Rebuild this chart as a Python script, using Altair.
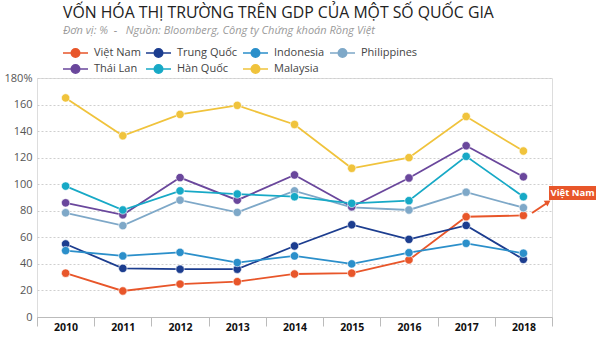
import altair as alt
import pandas as pd

years = ["2010", "2011", "2012", "2013", "2014", "2015", "2016", "2017", "2018"]
countries = ["Việt Nam", "Trung Quốc", "Indonesia", "Philippines", "Thái Lan", "Hàn Quốc", "Malaysia"]
colors = ["#e8562a", "#1c3d8f", "#2b8fca", "#7ea8c8", "#6a479c", "#17a9c6", "#f0c33c"]

viet_nam = [33, 19.6, 24.8, 26.6, 32.4, 33, 43, 75.5, 76.5]
trung_quoc = [55, 36.6, 36, 36, 53.5, 69.5, 58.5, 69, 43.4]
indonesia = [50, 46, 48.7, 41, 46, 40, 48.4, 55.5, 48]
philippines = [78.5, 68.8, 88, 78.8, 95, 82.6, 80.6, 94, 82.3]
thai_lan = [86, 77, 105, 88, 107, 83, 104.7, 129, 105.6]
han_quoc = [98.6, 80.6, 95, 92.6, 90.6, 85.6, 87.6, 121, 90.6]
malaysia = [165, 136.5, 152.6, 159.4, 145, 112, 120, 151, 125]

NB = "\u00a0"
title_text = "VỐN HÓA THỊ TRƯỜNG TRÊN GDP CỦA MỘT SỐ QUỐC GIA"
subtitle_text = f"Đơn vị: %{NB}{NB}-{NB}{NB}{NB}Nguồn: Bloomberg, Công ty Chứng khoán Rồng Việt"
callout_text = "Việt Nam"

series = [viet_nam, trung_quoc, indonesia, philippines, thai_lan, han_quoc, malaysia]
rows = []
for c, vals in zip(countries, series):
    for y, v in zip(years, vals):
        rows.append({"country": c, "year": y, "value": v})
df = pd.DataFrame(rows)

FONT = "Open Sans"
sym = "M-1.667,0H-0.56M0.56,0H1.667M-0.56,0A0.56,0.56,0,1,1,0.56,0A0.56,0.56,0,1,1,-0.56,0Z"

color = alt.Color(
    "country:N",
    scale=alt.Scale(domain=countries, range=colors),
    sort=countries,
    legend=alt.Legend(
        title=None, orient="none", legendX=30, legendY=-33.5, columns=4,
        direction="horizontal", padding=0,
        symbolType=sym, symbolSize=225, symbolStrokeWidth=1.6,
        labelFont=FONT, labelFontSize=11, labelColor="#444",
        columnPadding=1, rowPadding=0, labelOffset=10,
    ),
)

x = alt.X("year:O", sort=years, title=None,
          scale=alt.Scale(type="band", paddingInner=0, paddingOuter=0),
          axis=alt.Axis(labelAngle=0, labelFont=FONT, labelFontWeight="bold",
                        labelFontSize=10.5, labelColor="#111", domainColor="#bbb",
                        tickColor="#bbb", tickSize=9, tickBand="extent",
                        labelPadding=-4, grid=False))
y = alt.Y("value:Q", title=None,
          scale=alt.Scale(domain=[0, 180], nice=False),
          axis=alt.Axis(values=list(range(0, 181, 20)), labelFont=FONT,
                        labelFontSize=11, labelColor="#555", domain=False,
                        ticks=False, labelPadding=5, gridColor="#cfcfcf",
                        gridDash=[2, 2], gridWidth=1,
                        labelExpr="datum.value == 180 ? '180%' : datum.label"))

lines = alt.Chart(df).mark_line(strokeWidth=1.8).encode(x=x, y=y, color=color)
points = alt.Chart(df).mark_circle(size=70, opacity=1, stroke="white", strokeWidth=0.6).encode(
    x=x, y=y, color=alt.Color("country:N", scale=alt.Scale(domain=countries, range=colors), legend=None))

txt = pd.DataFrame({"title": [title_text], "sub": [subtitle_text], "t": [callout_text]})
title = alt.Chart(txt).mark_text(font=FONT, fontSize=15.8, color="#222", align="left",
                                  baseline="alphabetic").encode(
    x=alt.value(26), y=alt.value(-60), text="title:N")
subtitle = alt.Chart(txt).mark_text(font=FONT, fontSize=11, fontStyle="italic", color="#9a9a9a",
                                     align="left", baseline="alphabetic").encode(
    x=alt.value(26), y=alt.value(-44), text="sub:N")

box = alt.Chart(txt).mark_rect(color="#e8562a").encode(
    x=alt.value(512), x2=alt.value(559), y=alt.value(108), y2=alt.value(122))
label = alt.Chart(txt).mark_text(color="white", font=FONT, fontWeight="bold", fontSize=9.5,
                                  align="center", baseline="middle").encode(
    x=alt.value(535.5), y=alt.value(115), text="t:N")
arrow = alt.Chart(txt).mark_rule(color="#e8562a", strokeWidth=2).encode(
    x=alt.value(495), x2=alt.value(510), y=alt.value(135), y2=alt.value(125))
head = alt.Chart(txt).mark_point(shape="triangle-up", filled=True, color="#e8562a",
                                 size=45, angle=56, opacity=1).encode(
    x=alt.value(511), y=alt.value(124))

chart = alt.layer(lines, points, title, subtitle, box, label, arrow, head).properties(
    width=515, height=239,
    padding={"left": 37, "top": 78, "right": 48, "bottom": 25},
    autosize=alt.AutoSizeParams(type="none"),
).configure_view(stroke=None).configure(background="white")

chart.save("out.html", embed_options={"renderer": "svg", "actions": False})
